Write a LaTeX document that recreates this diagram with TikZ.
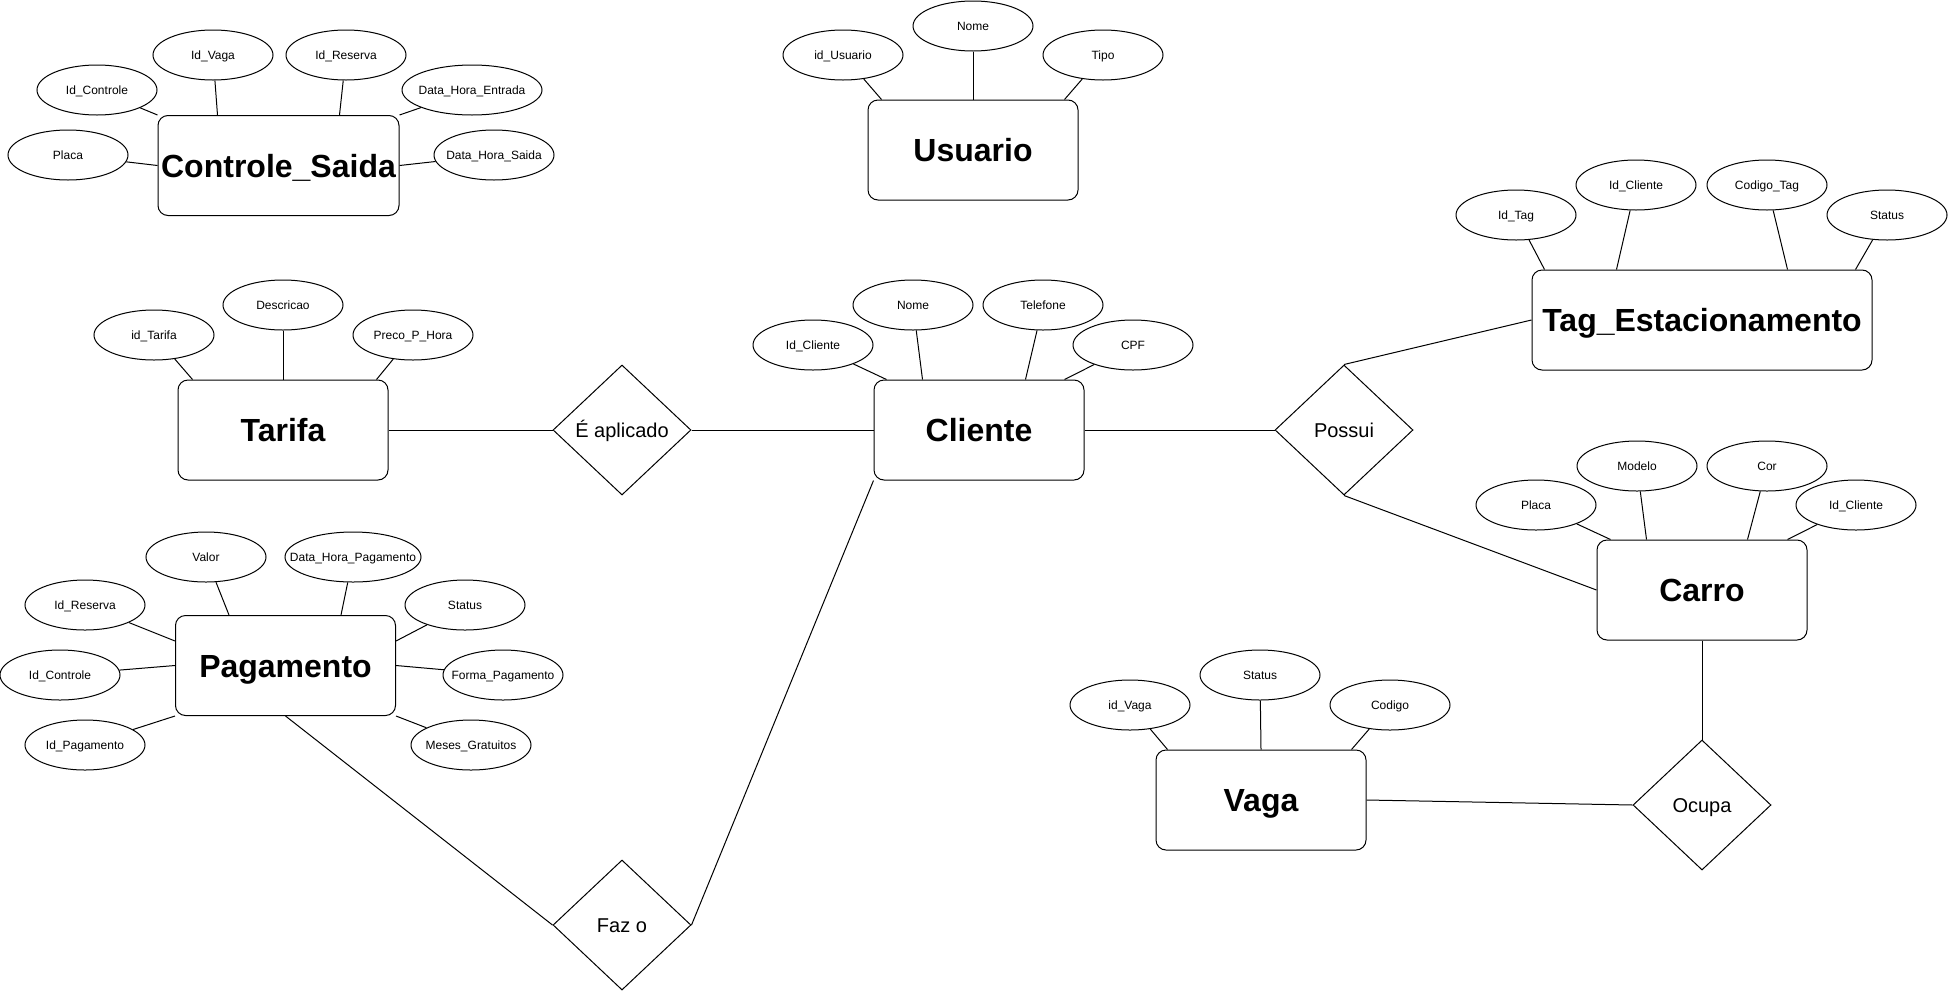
\documentclass[tikz,border=0pt]{standalone}
\usepackage{fontspec}
\setmainfont{Liberation Sans}
\usetikzlibrary{shapes.geometric}

\tikzset{
  entidade/.style={draw, rounded corners=10pt, minimum width=210pt, minimum height=100pt, inner sep=0pt, text height=23pt, text depth=0pt, font=\fontsize{32}{38}\selectfont\bfseries},
  atributo/.style={draw, ellipse, minimum height=50pt, inner sep=0pt, text height=8.6pt, text depth=0pt, font=\fontsize{12}{14}\selectfont},
  relacao/.style={draw, diamond, minimum width=138pt, minimum height=130pt, inner sep=0pt, text height=14.4pt, text depth=0pt, font=\fontsize{20}{24}\selectfont},
}

\begin{document}
\begin{tikzpicture}[x=1pt, y=-1pt, line width=1pt]
\useasboundingbox (0,0) rectangle (1948,991);

% entidades
\node[entidade, minimum width=241pt] (cs) at (278.5,165.5) {Controle\_Saida};
\node[entidade] (us) at (973,150) {Usuario};
\node[entidade, minimum width=340pt] (tag) at (1702,320) {Tag\_Estacionamento};
\node[entidade] (tf) at (283,430) {Tarifa};
\node[entidade] (cl) at (979,430) {Cliente};
\node[entidade] (ca) at (1702,590) {Carro};
\node[entidade, minimum width=220pt] (pg) at (285.5,665.5) {Pagamento};
\node[entidade] (vg) at (1261,800) {Vaga};

% relacionamentos
\node[relacao] (ea) at (622,430) {É aplicado};
\node[relacao] (po) at (1344,430) {Possui};
\node[relacao] (fz) at (622,925) {Faz o};
\node[relacao] (oc) at (1702,805) {Ocupa};

% atributos
\foreach \nome/\x/\y/\w/\texto in {
    cs1/97/90/120pt/Id\_Controle, cs2/213/55/120pt/Id\_Vaga,
    cs3/346/55/120pt/Id\_Reserva, cs4/472/90/140pt/Data\_Hora\_Entrada,
    cs5/68/155/120pt/Placa, cs6/494/155/120pt/Data\_Hora\_Saida,
    us1/843/55/120pt/id\_Usuario, us2/973/26/120pt/Nome, us3/1103/55/120pt/Tipo,
    tg1/1516/215/120pt/Id\_Tag, tg2/1636/185/120pt/Id\_Cliente,
    tg3/1767/185/120pt/Codigo\_Tag, tg4/1887/215/120pt/Status,
    tf1/154/335/120pt/id\_Tarifa, tf2/283/305/120pt/Descricao, tf3/413/335/120pt/Preco\_P\_Hora,
    cl1/813/345/120pt/Id\_Cliente, cl2/913/305/120pt/Nome,
    cl3/1043/305/120pt/Telefone, cl4/1133/345/120pt/CPF,
    ca1/1536/505/120pt/Placa, ca2/1637/466/120pt/Modelo,
    ca3/1767/466/120pt/Cor, ca4/1856/505/120pt/Id\_Cliente,
    pg1/206/557/120pt/Valor, pg2/353/557/136pt/Data\_Hora\_Pagamento,
    pg3/85/605/120pt/Id\_Reserva, pg4/465/605/120pt/Status,
    pg5/60/675/120pt/Id\_Controle, pg6/503/675/120pt/Forma\_Pagamento,
    pg7/85/745/120pt/Id\_Pagamento, pg8/471/745/120pt/Meses\_Gratuitos,
    vg1/1130/705/120pt/id\_Vaga, vg2/1260/675/120pt/Status, vg3/1390/705/120pt/Codigo}
  \node[atributo, minimum width=\w] (\nome) at (\x,\y) {\makebox[0pt]{\texto}};

% ligacoes dos atributos
\draw (cs1) -- (cs.north west);
\draw (cs2) -- ([xshift=60pt]cs.north west);
\draw (cs3) -- ([xshift=-60pt]cs.north east);
\draw (cs4) -- (cs.north east);
\draw (cs5) -- (cs.west);
\draw (cs6) -- (cs.east);

\draw (us1) -- ([xshift=14pt]us.north west);
\draw (us2) -- (us.north);
\draw (us3) -- ([xshift=-14pt]us.north east);

\draw (tg1) -- ([xshift=13pt]tag.north west);
\draw (tg2) -- ([xshift=85pt]tag.north west);
\draw (tg3) -- ([xshift=-85pt]tag.north east);
\draw (tg4) -- ([xshift=-17pt]tag.north east);

\draw (tf1) -- ([xshift=15pt]tf.north west);
\draw (tf2) -- (tf.north);
\draw (tf3) -- ([xshift=-12pt]tf.north east);

\draw (cl1) -- ([xshift=13pt]cl.north west);
\draw (cl2) -- ([xshift=49pt]cl.north west);
\draw (cl3) -- ([xshift=-59pt]cl.north east);
\draw (cl4) -- ([xshift=-20pt]cl.north east);

\draw (ca1) -- ([xshift=14pt]ca.north west);
\draw (ca2) -- ([xshift=50pt]ca.north west);
\draw (ca3) -- ([xshift=-60pt]ca.north east);
\draw (ca4) -- ([xshift=-20pt]ca.north east);

\draw (pg1) -- ([xshift=54pt]pg.north west);
\draw (pg2) -- ([xshift=-55pt]pg.north east);
\draw (pg3) -- ([yshift=-26pt]pg.north west);
\draw (pg4) -- ([yshift=-26pt]pg.north east);
\draw (pg5) -- (pg.west);
\draw (pg6) -- (pg.east);
\draw (pg7) -- (pg.south west);
\draw (pg8) -- (pg.south east);

\draw (vg1) -- ([xshift=12pt]vg.north west);
\draw (vg2) -- (vg.north);
\draw (vg3) -- ([xshift=-15pt]vg.north east);

% ligacoes dos relacionamentos
\draw (tf) -- (ea);
\draw (ea) -- (cl);
\draw (cl) -- (po);
\draw (po.north) -- (tag.west);
\draw (po.south) -- (ca.west);
\draw (ca) -- (oc);
\draw (oc.west) -- (vg.east);
\draw (pg.south) -- (fz.west);
\draw (fz.east) -- (cl.south west);
\end{tikzpicture}
\end{document}
